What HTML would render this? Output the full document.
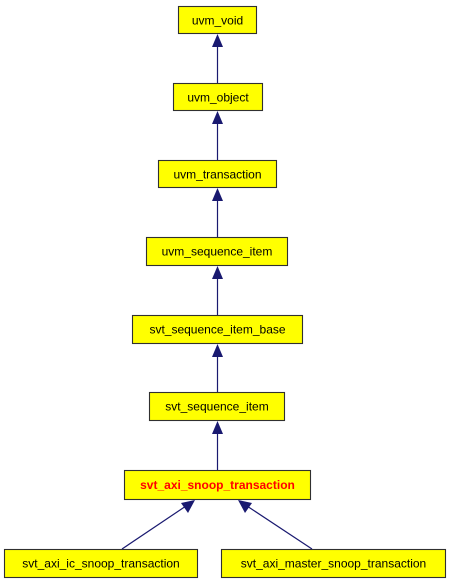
<!DOCTYPE html>
<html><head><meta charset="utf-8"><style>
html,body{margin:0;padding:0;background:#fff;}
svg{display:block;}
text{font-family:"Liberation Sans",sans-serif;font-size:12px;text-anchor:middle;}
</style></head><body>
<svg width="451" height="584" viewBox="0 0 451 584" xmlns="http://www.w3.org/2000/svg">
<g fill="#ffff00" stroke="#303030" stroke-width="1.1">
<rect x="178.5" y="6.5" width="78" height="27"/>
<rect x="173.5" y="83.5" width="89" height="27"/>
<rect x="158.5" y="160.5" width="118" height="27"/>
<rect x="146.5" y="237.5" width="141" height="28"/>
<rect x="132.5" y="315.5" width="170" height="28"/>
<rect x="149.5" y="392.5" width="135" height="28"/>
<rect x="124.5" y="470.5" width="186" height="29"/>
<rect x="4.5" y="549.5" width="193" height="28"/>
<rect x="221.5" y="549.5" width="224" height="28"/>
</g>
<g stroke="#191970" stroke-width="1.2" fill="none">
<line x1="217.5" y1="44" x2="217.5" y2="83"/>
<line x1="217.5" y1="121" x2="217.5" y2="160"/>
<line x1="217.5" y1="198" x2="217.5" y2="237"/>
<line x1="217.5" y1="276" x2="217.5" y2="315"/>
<line x1="217.5" y1="354" x2="217.5" y2="392"/>
<line x1="217.5" y1="431" x2="217.5" y2="470"/>
<line x1="122" y1="549" x2="186" y2="506"/>
<line x1="312" y1="549" x2="247" y2="506"/>
</g>
<g fill="#191970">
<polygon points="217.5,34 212,47 223,47"/>
<polygon points="217.5,111 212,124 223,124"/>
<polygon points="217.5,188 212,201 223,201"/>
<polygon points="217.5,266 212,279 223,279"/>
<polygon points="217.5,344 212,357 223,357"/>
<polygon points="217.5,421 212,434 223,434"/>
<polygon points="195,500 181,503 188,513"/>
<polygon points="238,500 245,513 252,503"/>
</g>
<text x="217.5" y="24.5">uvm_void</text>
<text x="218" y="101.5">uvm_object</text>
<text x="217.5" y="178.5">uvm_transaction</text>
<text x="217" y="255.5">uvm_sequence_item</text>
<text x="217.5" y="333.5">svt_sequence_item_base</text>
<text x="217" y="410.5">svt_sequence_item</text>
<text x="217.5" y="489" fill="#ff0000" font-weight="bold">svt_axi_snoop_transaction</text>
<text x="101" y="567.5">svt_axi_ic_snoop_transaction</text>
<text x="333.5" y="567.5">svt_axi_master_snoop_transaction</text>
</svg>
</body></html>
